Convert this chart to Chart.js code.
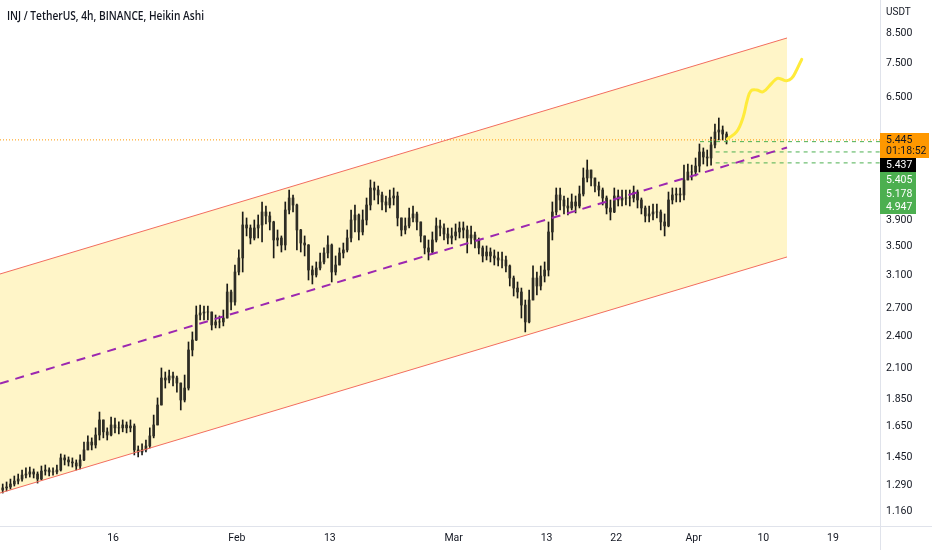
<!DOCTYPE html>
<html><head><meta charset="utf-8">
<script src="https://cdn.jsdelivr.net/npm/chart.js@4.4.0/dist/chart.umd.min.js"></script>
<style>html,body{margin:0;padding:0;background:#fff;}#wrap{width:932px;height:550px;position:relative;}</style>
</head><body><div id="wrap"><canvas id="c"></canvas></div>
<script>
const chartTitle = 'INJ / TetherUS, 4h, BINANCE, Heikin Ashi';
const currency = 'USDT';
// candle times: days since Jan 1 (12h candles)
const startDay = 0.75;
const stepDay = 0.5;
const open = [
1.266,1.277,1.282,1.298,1.314,1.325,1.347,1.353,1.365,1.353,
1.325,1.370,1.376,1.365,1.365,1.376,1.447,1.435,1.423,1.417,
1.399,1.435,1.496,1.546,1.527,1.592,1.695,1.613,1.592,1.660,
1.640,1.640,1.660,1.640,1.653,1.496,1.483,1.496,1.521,1.586,
1.660,1.804,2.019,2.002,2.036,2.019,1.977,1.842,1.936,2.269,
2.365,2.625,2.647,2.658,2.658,2.518,2.550,2.550,2.592,2.889,
2.771,3.140,3.329,3.820,3.772,3.618,3.772,3.820,4.032,3.966,
3.868,3.588,3.618,3.514,4.066,4.274,4.151,3.741,3.543,3.514,
3.166,3.101,3.193,3.274,3.399,3.514,3.140,3.233,3.399,3.442,
3.618,3.900,3.982,3.710,3.900,4.151,4.456,4.419,4.328,4.204,
4.151,4.274,4.310,3.933,3.741,3.804,3.933,3.999,3.868,3.649,
3.471,3.413,3.588,3.804,3.772,3.679,3.618,3.649,3.710,3.772,
3.741,3.618,3.664,3.588,3.471,3.357,3.413,3.357,3.329,3.301,
3.301,3.220,3.062,2.937,2.889,2.736,2.550,2.794,3.062,2.962,
3.088,3.166,3.710,4.032,4.328,4.239,4.134,4.100,4.204,4.134,
4.346,4.646,4.803,4.646,4.493,4.419,4.274,4.100,4.032,4.310,
4.239,4.274,4.274,4.274,4.382,4.239,4.100,3.966,3.999,4.032,
4.032,3.868,3.804,4.239,4.328,4.346,4.328,4.607,4.763,4.763,
4.883,5.177,5.070,5.049,5.331,5.627,5.674,5.580];
const high = [
1.298,1.309,1.325,1.342,1.353,1.376,1.388,1.393,1.382,1.365,
1.399,1.405,1.388,1.388,1.405,1.471,1.465,1.453,1.447,1.435,
1.465,1.546,1.586,1.573,1.640,1.752,1.695,1.640,1.716,1.709,
1.681,1.695,1.681,1.695,1.667,1.521,1.534,1.559,1.640,1.730,
1.858,2.105,2.070,2.087,2.070,2.036,1.977,2.044,2.346,2.446,
2.725,2.736,2.725,2.725,2.658,2.625,2.614,2.680,2.987,2.913,
3.233,3.442,4.032,3.933,3.820,3.900,3.982,4.204,4.134,4.032,
3.880,3.741,3.649,4.204,4.419,4.328,4.169,3.750,3.649,3.520,
3.220,3.274,3.399,3.471,3.649,3.529,3.357,3.471,3.543,3.741,
4.066,4.151,3.999,4.066,4.274,4.607,4.569,4.493,4.382,4.310,
4.419,4.456,4.382,3.933,3.933,4.100,4.134,4.032,3.868,3.649,
3.588,3.710,3.933,3.900,3.836,3.772,3.772,3.836,3.868,3.868,
3.804,3.804,3.710,3.618,3.500,3.500,3.471,3.442,3.413,3.413,
3.357,3.233,3.088,3.012,2.937,2.794,2.913,3.220,3.140,3.220,
3.274,3.868,4.204,4.456,4.456,4.310,4.274,4.346,4.310,4.493,
4.843,5.007,4.803,4.646,4.569,4.456,4.310,4.239,4.456,4.419,
4.419,4.419,4.419,4.493,4.419,4.274,4.134,4.134,4.169,4.169,
4.066,3.999,4.382,4.456,4.456,4.456,4.903,4.924,4.903,5.049,
5.353,5.265,5.220,5.511,5.818,5.965,5.770,5.627];
const low = [
1.250,1.261,1.271,1.287,1.298,1.314,1.331,1.336,1.331,1.303,
1.320,1.347,1.342,1.347,1.353,1.370,1.405,1.399,1.393,1.376,
1.382,1.430,1.496,1.496,1.508,1.559,1.573,1.559,1.586,1.606,
1.599,1.613,1.606,1.613,1.465,1.453,1.465,1.483,1.508,1.573,
1.660,1.804,1.936,1.977,1.953,1.904,1.767,1.827,1.920,2.213,
2.360,2.571,2.571,2.571,2.466,2.487,2.487,2.508,2.592,2.680,
2.736,3.101,3.140,3.649,3.529,3.588,3.618,3.558,3.836,3.741,
3.329,3.500,3.413,3.442,3.999,4.032,3.442,3.413,3.357,3.037,
2.987,3.075,3.166,3.247,3.329,3.012,3.101,3.233,3.329,3.413,
3.558,3.710,3.588,3.664,3.820,4.066,4.239,4.169,4.066,4.032,
4.100,4.151,3.804,3.649,3.679,3.772,3.868,3.741,3.558,3.385,
3.301,3.385,3.558,3.649,3.588,3.529,3.529,3.588,3.618,3.618,
3.399,3.529,3.471,3.385,3.274,3.301,3.274,3.233,3.220,3.193,
3.140,2.962,2.841,2.817,2.592,2.446,2.540,2.794,2.853,2.913,
3.012,3.088,3.588,3.982,4.066,3.999,3.982,4.066,4.016,4.100,
4.310,4.569,4.493,4.382,4.310,4.151,3.999,3.900,4.020,4.134,
4.134,4.151,4.134,4.204,4.100,3.999,3.868,3.868,3.900,3.933,
3.741,3.649,3.790,4.169,4.204,4.204,4.239,4.607,4.607,4.685,
4.763,4.924,4.883,4.903,5.265,5.443,5.443,5.353];
const close = [
1.277,1.282,1.298,1.314,1.325,1.347,1.353,1.365,1.353,1.325,
1.370,1.376,1.365,1.365,1.376,1.447,1.435,1.423,1.417,1.399,
1.435,1.496,1.546,1.527,1.592,1.695,1.613,1.592,1.660,1.640,
1.640,1.660,1.640,1.653,1.496,1.483,1.496,1.521,1.586,1.660,
1.804,2.019,2.002,2.036,2.019,1.977,1.842,1.936,2.269,2.365,
2.625,2.647,2.658,2.658,2.518,2.550,2.550,2.592,2.889,2.771,
3.140,3.329,3.820,3.772,3.618,3.772,3.820,4.032,3.966,3.868,
3.588,3.618,3.514,4.066,4.274,4.151,3.741,3.543,3.514,3.166,
3.101,3.193,3.274,3.399,3.514,3.140,3.233,3.399,3.442,3.618,
3.900,3.982,3.710,3.900,4.151,4.456,4.419,4.328,4.204,4.151,
4.274,4.310,3.933,3.741,3.804,3.933,3.999,3.868,3.649,3.471,
3.413,3.588,3.804,3.772,3.679,3.618,3.649,3.710,3.772,3.741,
3.618,3.664,3.588,3.471,3.357,3.413,3.357,3.329,3.301,3.301,
3.220,3.062,2.937,2.889,2.736,2.550,2.794,3.062,2.962,3.088,
3.166,3.710,4.032,4.328,4.239,4.134,4.100,4.204,4.134,4.346,
4.646,4.803,4.646,4.493,4.419,4.274,4.100,4.032,4.310,4.239,
4.274,4.274,4.274,4.382,4.239,4.100,3.966,3.999,4.032,4.032,
3.868,3.804,4.239,4.328,4.346,4.328,4.607,4.763,4.763,4.883,
5.177,5.070,5.049,5.331,5.627,5.674,5.580,5.445];

const xMinDay = 0.40, xMaxDay = 114.07;
const xTickDays = [15,31,43,59,71,80,90,99,108];
const xTickLabels = ['16','Feb','13','Mar','13','22','Apr','10','19'];
const yMin = 1.0896, yMax = 9.753;
const yTicks = [1.16,1.29,1.45,1.65,1.85,2.1,2.4,2.7,3.1,3.5,3.9,6.5,7.5,8.5];

// parallel channel (drawing)
const channelDays = [0.40, 102.06];
const channelUpper = [3.114, 8.325];
const channelMid = [1.973, 5.275];
const channelLower = [1.250, 3.343];

// hand-drawn projection (yellow)
const projDays = [94.35,95.56,96.41,96.93,97.41,98.14,98.99,100.08,100.80,101.37,102.01,102.66,103.30,103.96];
const projPrices = [5.468,5.634,5.998,6.430,6.684,6.703,6.655,6.893,7.038,7.009,6.968,7.038,7.286,7.618];

const lastPrice = 5.445;
const countdown = '01:18:52';
const haClose = 5.437;
const levelPrices = [5.405, 5.178, 4.947];
const levelStartDays = [90.82, 92.84, 92.84];

const days = close.map((_, i) => startDay + stepDay * i);
const pts = (xs, ys) => xs.map((x, i) => ({x, y: ys[i]}));

const overlay = {
  id: 'overlay',
  afterDraw(chart) {
    const {ctx, chartArea: ca, scales: {y}} = chart;
    ctx.save();
    ctx.strokeStyle = '#e0e3eb'; ctx.lineWidth = 1;
    ctx.beginPath();
    ctx.moveTo(0, ca.bottom + 0.5); ctx.lineTo(chart.width, ca.bottom + 0.5);
    ctx.moveTo(ca.right + 0.5, 0); ctx.lineTo(ca.right + 0.5, chart.height);
    ctx.stroke();
    // title
    ctx.fillStyle = '#131722';
    ctx.textBaseline = 'middle'; ctx.textAlign = 'left';
    ctx.font = '600 12px "Open Sans", sans-serif';
    const tw = ctx.measureText(chartTitle).width;
    ctx.save(); ctx.translate(7, 17); ctx.scale(197 / tw, 1); ctx.fillText(chartTitle, 0, 0); ctx.restore();
    // currency
    ctx.font = '10px Roboto, sans-serif';
    ctx.fillText(currency, ca.right + 6, 12);
    // price labels
    const x0 = ca.right;
    const yp = Math.round(y.getPixelForValue(lastPrice));
    let top = yp - 7;
    ctx.fillStyle = '#ff9800';
    ctx.fillRect(x0, top, 49, 25);
    ctx.fillStyle = '#131722';
    ctx.font = '10.5px Roboto, sans-serif';
    ctx.fillText(lastPrice.toFixed(3), x0 + 6, top + 7);
    ctx.fillText(countdown, x0 + 6, top + 18.5);
    top += 25;
    ctx.fillStyle = '#000000';
    ctx.fillRect(x0, top, 36, 14);
    ctx.fillStyle = '#ffffff';
    ctx.fillText(haClose.toFixed(3), x0 + 6, top + 7);
    top += 14;
    ctx.fillStyle = '#4caf50';
    ctx.fillRect(x0, top, 36, 42);
    ctx.fillStyle = '#ffffff';
    levelPrices.forEach((v, i) => ctx.fillText(v.toFixed(3), x0 + 6, top + 8.5 + i * 13.5));
    ctx.restore();
  }
};

new Chart(document.getElementById('c'), {
  type: 'bar',
  data: {
    datasets: [
      {type: 'line', data: pts(channelDays, channelUpper), borderColor: '#f26d5e', borderWidth: 1, pointRadius: 0, fill: false, order: 0},
      {type: 'line', data: pts(channelDays, channelLower), borderColor: '#f26d5e', borderWidth: 1, pointRadius: 0, fill: {target: 0}, backgroundColor: '#fff5c8', order: 0},
      {type: 'line', data: pts(channelDays, channelMid), borderColor: '#9c27b0', borderWidth: 2, borderDash: [9, 7], pointRadius: 0, fill: false, order: 0},
      {type: 'bar', data: days.map((d, i) => ({x: d, y: [low[i], high[i]]})), backgroundColor: '#1a1a16', barThickness: 1, grouped: false, order: 3},
      {type: 'bar', data: days.map((d, i) => ({x: d, y: [open[i], close[i]]})), backgroundColor: '#2e2d25', borderWidth: 0, barThickness: 2, grouped: false, order: 2},
      {type: 'line', data: [{x: xMinDay, y: lastPrice}, {x: xMaxDay, y: lastPrice}], borderColor: '#ff9800', borderWidth: 1, borderDash: [1, 2], pointRadius: 0, fill: false, order: 1},
      ...levelPrices.map((v, i) => ({type: 'line', data: [{x: levelStartDays[i], y: v}, {x: xMaxDay, y: v}], borderColor: '#4caf50', borderWidth: 1, borderDash: [4, 4], pointRadius: 0, fill: false, order: 1})),
      {type: 'line', data: pts(projDays, projPrices), borderColor: '#ffeb3b', borderWidth: 3, tension: 0.4, pointRadius: 0, fill: false, order: 0, borderCapStyle: 'round'}
    ]
  },
  options: {
    responsive: true, maintainAspectRatio: false, animation: false,
    layout: {padding: 0},
    plugins: {legend: {display: false}, tooltip: {enabled: false}, filler: {drawTime: 'beforeDatasetsDraw'}},
    scales: {
      x: {
        type: 'linear', min: xMinDay, max: xMaxDay, offset: false, position: 'bottom',
        grid: {display: false, drawTicks: false}, border: {display: false},
        afterBuildTicks: s => { s.ticks = xTickDays.map(v => ({value: v})); },
        afterFit: s => { s.height = 24; s.paddingLeft = 0; s.paddingRight = 0; },
        ticks: {autoSkip: false, maxRotation: 0, padding: 6, color: '#131722', font: {family: 'Roboto', size: 10.5},
          callback: (v) => xTickLabels[xTickDays.indexOf(v)]}
      },
      y: {
        type: 'logarithmic', position: 'right', min: yMin, max: yMax,
        grid: {display: false, drawTicks: false}, border: {display: false},
        afterBuildTicks: s => { s.ticks = yTicks.map(v => ({value: v})); },
        afterFit: s => { s.width = 52; s.paddingTop = 0; s.paddingBottom = 0; },
        ticks: {padding: 6, color: '#131722', font: {family: 'Roboto', size: 10.5}, callback: v => Number(v).toFixed(3)}
      }
    }
  },
  plugins: [overlay]
});
</script>
</body></html>
